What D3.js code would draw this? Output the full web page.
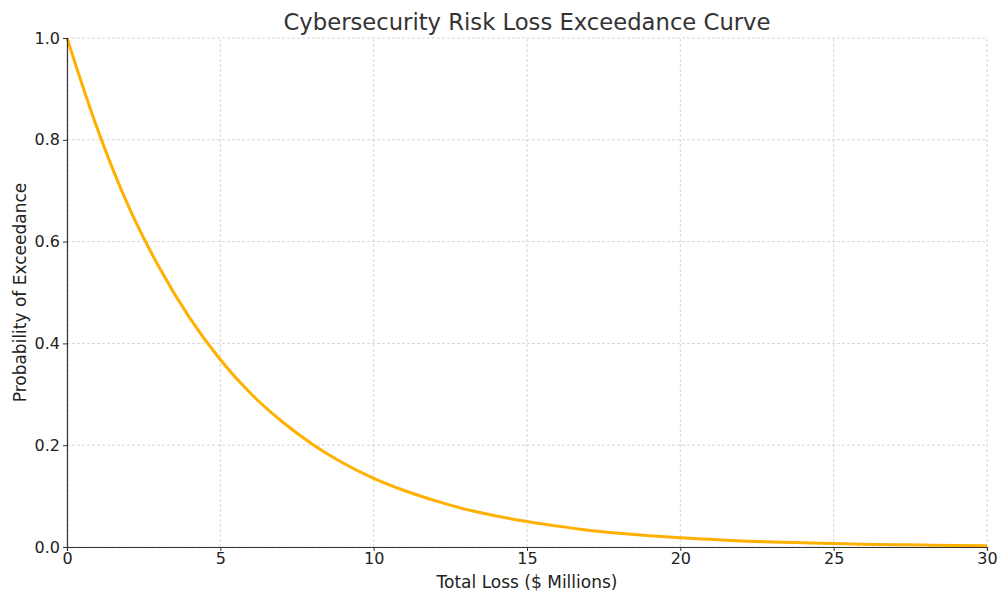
<!DOCTYPE html>
<html><head><meta charset="utf-8">
<script src="https://cdn.jsdelivr.net/npm/d3@7"></script>
<style>body{margin:0;background:#fff;} svg{display:block;font-family:"DejaVu Sans",sans-serif;}</style>
</head><body><svg id="c" width="997" height="592"></svg>
<script>
const lossValues = [0,1,2,3,4,5,6,7,8,9,10,11,12,13,14,15,16,17,18,19,20,21,22,23,24,25,26,27,28,29,30];
const exceedProb = [1.0,0.82,0.67,0.55,0.45,0.368,0.301,0.247,0.202,0.165,0.135,0.111,0.091,0.074,0.061,0.050,0.041,0.033,0.027,0.022,0.018,0.015,0.012,0.010,0.0082,0.0067,0.0055,0.0045,0.0037,0.0030,0.0025];
const xTicks = [0,5,10,15,20,25,30];
const yTicks = [0,0.2,0.4,0.6,0.8,1.0];

const svg = d3.select("#c");
const m = {l:67, r:10, t:38, b:45};
const W = 997, H = 592;
const x = d3.scaleLinear().domain([0,30]).range([m.l, W-m.r]);
const y = d3.scaleLinear().domain([0,1]).range([H-m.b, m.t]);

// grid
const g = svg.append("g");
g.selectAll(".vx").data(xTicks).enter().append("line")
  .attr("x1",d=>x(d)).attr("x2",d=>x(d)).attr("y1",y(0)).attr("y2",y(1))
  .attr("stroke","#cccccc").attr("stroke-width",0.8).attr("stroke-dasharray","3,2");
g.selectAll(".hy").data(yTicks).enter().append("line")
  .attr("x1",x(0)).attr("x2",x(30)).attr("y1",d=>y(d)).attr("y2",d=>y(d))
  .attr("stroke","#cccccc").attr("stroke-width",0.8).attr("stroke-dasharray","3,2");

// line
const line = d3.line().x((d,i)=>x(lossValues[i])).y(d=>y(d)).curve(d3.curveMonotoneX);
svg.append("path").datum(exceedProb).attr("d",line).attr("fill","none")
  .attr("stroke","#FFB000").attr("stroke-width",3);

// axes
const xa = svg.append("g").attr("transform",`translate(0,${y(0)})`)
  .call(d3.axisBottom(x).tickValues(xTicks).tickSize(4).tickPadding(2).tickFormat(d3.format("d")));
const ya = svg.append("g").attr("transform",`translate(${x(0)},0)`)
  .call(d3.axisLeft(y).tickValues(yTicks).tickSize(4).tickPadding(3).tickFormat(d3.format(".1f")));
[xa,ya].forEach(a=>{
  a.select(".domain").attr("stroke","#333").attr("stroke-width",1.2);
  a.selectAll(".tick line").attr("stroke","#333");
  a.selectAll("text").attr("font-size",16).attr("fill","#222").attr("font-family","DejaVu Sans");
});

svg.append("text").attr("x",(x(0)+x(30))/2).attr("y",30).attr("text-anchor","middle")
  .attr("font-size",22.7).attr("fill","#333").text("Cybersecurity Risk Loss Exceedance Curve");
svg.append("text").attr("x",(x(0)+x(30))/2).attr("y",588).attr("text-anchor","middle")
  .attr("font-size",17).attr("fill","#222").text("Total Loss ($ Millions)");
svg.append("text").attr("transform",`translate(26,${(y(0)+y(1))/2}) rotate(-90)`).attr("text-anchor","middle")
  .attr("font-size",17).attr("fill","#222").text("Probability of Exceedance");
</script></body></html>
